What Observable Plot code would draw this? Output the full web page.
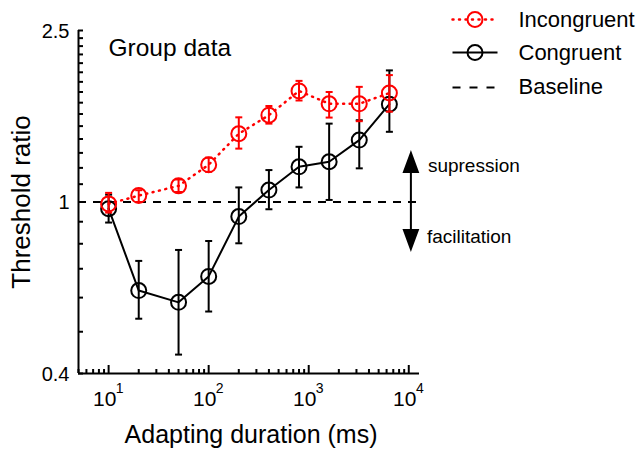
<!DOCTYPE html>
<html>
<head>
<meta charset="utf-8">
<script src="https://cdn.jsdelivr.net/npm/d3@7"></script>
<script src="https://cdn.jsdelivr.net/npm/@observablehq/plot@0.6"></script>
<style>
  body { margin: 0; background: #fff; }
  #chart { width: 638px; height: 449px; }
  #chart svg { font-family: 'Liberation Sans', Arial, Helvetica, sans-serif; background: white; color: black; }
</style>
</head>
<body>
<div id="chart"></div>
<script>
// ---- data ----
const durations = [10, 20, 50, 100, 200, 400, 800, 1600, 3200, 6400];

const incongruent   = [0.99, 1.035, 1.09, 1.22, 1.44, 1.59, 1.81, 1.69, 1.69, 1.79];
const incongruentLo = [0.945, 1.0, 1.055, 1.175, 1.33, 1.52, 1.72, 1.57, 1.54, 1.62];
const incongruentHi = [1.05, 1.065, 1.128, 1.267, 1.572, 1.67, 1.91, 1.80, 1.85, 1.97];

const congruent   = [0.965, 0.623, 0.585, 0.672, 0.925, 1.066, 1.207, 1.24, 1.392, 1.686];
const congruentLo = [0.896, 0.536, 0.4425, 0.557, 0.802, 0.962, 1.081, 1.011, 1.197, 1.455];
const congruentHi = [1.04, 0.730, 0.774, 0.812, 1.081, 1.186, 1.343, 1.52, 1.548, 2.02];

const baselineValue = 1;

const yDomain = [0.4, 2.5];
const xDomain = [5, 12800];
const yTicks = d3.range(4, 26).map(d => d / 10);
const yLabels = [0.4, 1, 2.5];
const xMajor = [10, 100, 1000, 10000];
const xExponents = ["1", "2", "3", "4"];
const xMinor = [5, 6, 7, 8, 9,
  20, 30, 40, 50, 60, 70, 80, 90,
  200, 300, 400, 500, 600, 700, 800, 900,
  2000, 3000, 4000, 5000, 6000, 7000, 8000, 9000];

const seriesNames = ["Incongruent", "Congruent", "Baseline"];
const seriesColors = ["#ff0000", "#000000", "#000000"];

const arrowX = 10500;
const annotationTexts = ["supression", "facilitation"];

// ---- tables ----
const incData = durations.map((d, i) => ({duration: d, value: incongruent[i], lo: incongruentLo[i], hi: incongruentHi[i]}));
const conData = durations.map((d, i) => ({duration: d, value: congruent[i], lo: congruentLo[i], hi: congruentHi[i]}));

// ---- custom shapes ----
const capSymbol = {draw(ctx) { ctx.moveTo(-3.5, 0); ctx.lineTo(3.5, 0); }};
const lineShape = {draw(ctx, l) { ctx.moveTo(0, 0); ctx.lineTo(0, -l); }};
const arrowShape = {draw(ctx, l) {
  ctx.moveTo(0, 0); ctx.lineTo(0, -l + 16);
  ctx.moveTo(0, -l); ctx.lineTo(-7, -l + 19); ctx.lineTo(7, -l + 19); ctx.closePath();
}};

function errorMarks(data, color) {
  return [
    Plot.ruleX(data, {x: "duration", y1: "lo", y2: "hi", stroke: color, strokeWidth: 2}),
    Plot.dot(data, {x: "duration", y: "lo", symbol: capSymbol, stroke: color, fill: "none", strokeWidth: 2}),
    Plot.dot(data, {x: "duration", y: "hi", symbol: capSymbol, stroke: color, fill: "none", strokeWidth: 2})
  ];
}

const legendRowsLine = [-11, 22, 57];
const legendRowsText = [-10.5, 22.5, 56];
const legendDash = ["1,5.5", null, "8,9"];
const legendMarks = seriesNames.flatMap((name, i) => {
  const m = [
    Plot.vector([name], {frameAnchor: "top-right", dx: 33, dy: legendRowsLine[i], length: 45, rotate: 90,
      anchor: "start", shape: lineShape, stroke: seriesColors[i], strokeWidth: i === 0 ? 2.5 : 2,
      strokeDasharray: legendDash[i], strokeLinecap: i === 0 ? "round" : "butt"}),
    Plot.text([name], {frameAnchor: "top-right", dx: 99, dy: legendRowsText[i], text: d => d,
      textAnchor: "start", lineAnchor: "middle", fontSize: 22, fill: "black"})
  ];
  if (i < 2) m.push(Plot.dot([name], {frameAnchor: "top-right", dx: 55.5, dy: legendRowsLine[i], r: 7.5,
      stroke: seriesColors[i], fill: "none", strokeWidth: 2}));
  return m;
});

const chart = Plot.plot({
  width: 638,
  height: 449,
  marginLeft: 78,
  marginRight: 219,
  marginTop: 30,
  marginBottom: 76,
  x: {type: "log", domain: xDomain, axis: null},
  y: {type: "log", domain: yDomain, axis: null},
  marks: [
    // inward ticks (short rules starting at the axis lines)
    Plot.ruleY(yTicks, {y: d => d, x1: () => xDomain[0], x2: () => xDomain[0], insetRight: -5,
      stroke: "black", strokeWidth: 2}),
    Plot.ruleX(xMinor, {x: d => d, y1: () => yDomain[0], y2: () => yDomain[0], insetTop: -4,
      stroke: "black", strokeWidth: 2}),
    Plot.ruleX(xMajor, {x: d => d, y1: () => yDomain[0], y2: () => yDomain[0], insetTop: -8,
      stroke: "black", strokeWidth: 2}),
    // axis lines
    Plot.ruleX([xDomain[0]], {stroke: "black", strokeWidth: 2}),
    Plot.ruleY([yDomain[0]], {stroke: "black", strokeWidth: 2}),
    // tick labels
    Plot.text(yLabels, {y: d => d, frameAnchor: "left", text: d => String(d), dx: -9, dy: 1,
      textAnchor: "end", lineAnchor: "middle", fontSize: 20}),
    Plot.text(xMajor, {x: d => d, frameAnchor: "bottom", text: () => "10", dy: 26, dx: -4,
      textAnchor: "middle", lineAnchor: "middle", fontSize: 21}),
    Plot.text(xMajor.map((d, i) => ({d, e: xExponents[i]})), {x: "d", text: "e", frameAnchor: "bottom",
      dy: 15, dx: 11, textAnchor: "middle", lineAnchor: "middle", fontSize: 14}),
    // baseline
    Plot.ruleY([baselineValue], {stroke: "black", strokeWidth: 2, strokeDasharray: "8,7"}),
    // congruent
    Plot.line(conData, {x: "duration", y: "value", stroke: "black", strokeWidth: 2}),
    ...errorMarks(conData, "black"),
    Plot.dot(conData, {x: "duration", y: "value", r: 7.5, stroke: "black", fill: "none", strokeWidth: 2}),
    // incongruent
    Plot.line(incData, {x: "duration", y: "value", stroke: "#ff0000", strokeWidth: 2.5, strokeDasharray: "1,5.5", strokeLinecap: "round"}),
    ...errorMarks(incData, "#ff0000"),
    Plot.dot(incData, {x: "duration", y: "value", r: 7.5, stroke: "#ff0000", fill: "none", strokeWidth: 2}),
    // arrows and annotation
    Plot.vector([annotationTexts[0]], {x: () => arrowX, y: () => baselineValue, length: 49, rotate: 0, anchor: "start",
      shape: arrowShape, stroke: "black", fill: "black", strokeWidth: 2, strokeLinecap: "butt", strokeLinejoin: "miter"}),
    Plot.vector([annotationTexts[1]], {x: () => arrowX, y: () => baselineValue, length: 47, rotate: 180, anchor: "start",
      shape: arrowShape, stroke: "black", fill: "black", strokeWidth: 2, strokeLinecap: "butt", strokeLinejoin: "miter"}),
    Plot.text([annotationTexts[0]], {x: () => arrowX, y: () => baselineValue, text: d => d, dx: 17, dy: -36,
      textAnchor: "start", lineAnchor: "middle", fontSize: 19}),
    Plot.text([annotationTexts[1]], {x: () => arrowX, y: () => baselineValue, text: d => d, dx: 16, dy: 34.5,
      textAnchor: "start", lineAnchor: "middle", fontSize: 19}),
    // titles
    Plot.text(["Group data"], {frameAnchor: "top-left", dx: 30, dy: 18, text: d => d,
      textAnchor: "start", lineAnchor: "middle", fontSize: 24.5}),
    Plot.text(["Adapting duration (ms)"], {frameAnchor: "bottom", dy: 61, dx: 2, text: d => d,
      textAnchor: "middle", lineAnchor: "middle", fontSize: 25}),
    Plot.text(["Threshold ratio"], {frameAnchor: "left", dx: -57, rotate: -90, text: d => d,
      textAnchor: "middle", lineAnchor: "middle", fontSize: 26}),
    // legend
    ...legendMarks
  ]
});
document.getElementById("chart").appendChild(chart);
</script>
</body>
</html>
